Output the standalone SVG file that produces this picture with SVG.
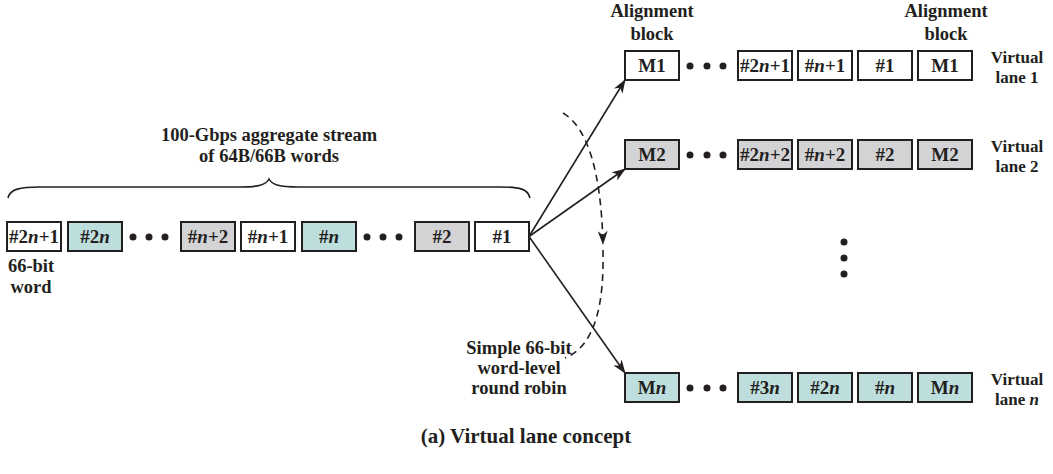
<svg xmlns="http://www.w3.org/2000/svg" width="1053" height="474" viewBox="0 0 1053 474">
<style>
text{font-family:"Liberation Serif","Times New Roman",serif;font-weight:bold;font-size:18.5px;fill:#231f20;text-anchor:middle}
.bx{font-size:19px}
.vl{font-size:17px}
.cap{font-size:21px}
.i{font-style:italic}
.b{stroke:#231f20;stroke-width:2}
.w{fill:#fff}
.t{fill:#bddedd}
.g{fill:#d3d3d5}
.ln{stroke:#231f20;stroke-width:1.6;fill:none}
.d{fill:#231f20}
</style>
<defs>
<marker id="ah" viewBox="0 0 14 10" refX="13" refY="5" markerWidth="14" markerHeight="10" markerUnits="userSpaceOnUse" orient="auto">
<path d="M0,0 L14,5 L0,10 L4,5 z" fill="#231f20"/>
</marker>
</defs>

<g id="connectors">
<line class="ln" x1="529" y1="236.5" x2="625" y2="80" marker-end="url(#ah)"/>
<line class="ln" x1="529" y1="236.5" x2="625" y2="169" marker-end="url(#ah)"/>
<line class="ln" x1="529" y1="236.5" x2="625" y2="373" marker-end="url(#ah)"/>
<path class="ln" stroke-dasharray="7,5" d="M563,113 Q600,135 603,244" marker-end="url(#ah)"/>
<path class="ln" stroke-dasharray="7,5" d="M603,250 C604,300 597,345 565,358"/>
<path class="ln" d="M8,198 C10,189 20,187 40,187 L240,187 C258,187 266,185 269,179 C272,185 280,187 298,187 L500,187 C520,187 528,189 530,198"/>
</g>

<g id="stream-label"><text x="269" y="141">100-Gbps aggregate stream</text><text x="269" y="162">of 64B/66B words</text></g>

<g id="s1"><rect class="b w" x="7" y="222" width="54" height="29"/><text class="bx" x="34" y="243">#2<tspan class="i">n</tspan>+1</text></g>
<g id="s2"><rect class="b t" x="68" y="222" width="54" height="29"/><text class="bx" x="95" y="243">#2<tspan class="i">n</tspan></text></g>
<g id="sdots1"><circle class="d" cx="133" cy="237" r="3.5"/><circle class="d" cx="149" cy="237" r="3.5"/><circle class="d" cx="165" cy="237" r="3.5"/></g>
<g id="s3"><rect class="b g" x="181" y="222" width="54" height="29"/><text class="bx" x="208" y="243">#<tspan class="i">n</tspan>+2</text></g>
<g id="s4"><rect class="b w" x="241" y="222" width="54" height="29"/><text class="bx" x="268" y="243">#<tspan class="i">n</tspan>+1</text></g>
<g id="s5"><rect class="b t" x="302" y="222" width="54" height="29"/><text class="bx" x="329" y="243">#<tspan class="i">n</tspan></text></g>
<g id="sdots2"><circle class="d" cx="367" cy="237" r="3.5"/><circle class="d" cx="383" cy="237" r="3.5"/><circle class="d" cx="399" cy="237" r="3.5"/></g>
<g id="s6"><rect class="b g" x="415" y="222" width="54" height="29"/><text class="bx" x="442" y="243">#2</text></g>
<g id="s7"><rect class="b w" x="475" y="222" width="54" height="29"/><text class="bx" x="502" y="243">#1</text></g>
<g id="word-label"><text x="31" y="272">66-bit</text><text x="31" y="293">word</text></g>

<g id="align-left"><text x="652" y="17">Alignment</text><text x="652" y="40">block</text></g>
<g id="align-right"><text x="946" y="17">Alignment</text><text x="946" y="40">block</text></g>

<g id="lane1">
<rect class="b w" x="625" y="51" width="54" height="29"/><text class="bx" x="652" y="72">M1</text>
<circle class="d" cx="690" cy="66" r="3.5"/><circle class="d" cx="707" cy="66" r="3.5"/><circle class="d" cx="723" cy="66" r="3.5"/>
<rect class="b w" x="738" y="51" width="54" height="29"/><text class="bx" x="765" y="72">#2<tspan class="i">n</tspan>+1</text>
<rect class="b w" x="798" y="51" width="54" height="29"/><text class="bx" x="825" y="72">#<tspan class="i">n</tspan>+1</text>
<rect class="b w" x="858" y="51" width="54" height="29"/><text class="bx" x="885" y="72">#1</text>
<rect class="b w" x="918" y="51" width="54" height="29"/><text class="bx" x="945" y="72">M1</text>
<text class="vl" x="1017" y="63">Virtual</text><text class="vl" x="1017" y="83">lane 1</text>
</g>

<g id="lane2">
<rect class="b g" x="625" y="140" width="54" height="29"/><text class="bx" x="652" y="161">M2</text>
<circle class="d" cx="690" cy="155" r="3.5"/><circle class="d" cx="707" cy="155" r="3.5"/><circle class="d" cx="723" cy="155" r="3.5"/>
<rect class="b g" x="738" y="140" width="54" height="29"/><text class="bx" x="765" y="161">#2<tspan class="i">n</tspan>+2</text>
<rect class="b g" x="798" y="140" width="54" height="29"/><text class="bx" x="825" y="161">#<tspan class="i">n</tspan>+2</text>
<rect class="b g" x="858" y="140" width="54" height="29"/><text class="bx" x="885" y="161">#2</text>
<rect class="b g" x="918" y="140" width="54" height="29"/><text class="bx" x="945" y="161">M2</text>
<text class="vl" x="1017" y="152">Virtual</text><text class="vl" x="1017" y="172">lane 2</text>
</g>

<g id="vdots"><circle class="d" cx="844" cy="242" r="3.5"/><circle class="d" cx="844" cy="258" r="3.5"/><circle class="d" cx="844" cy="274" r="3.5"/></g>

<g id="lanen">
<rect class="b t" x="625" y="373" width="54" height="29"/><text class="bx" x="652" y="394">M<tspan class="i">n</tspan></text>
<circle class="d" cx="690" cy="388" r="3.5"/><circle class="d" cx="707" cy="388" r="3.5"/><circle class="d" cx="723" cy="388" r="3.5"/>
<rect class="b t" x="738" y="373" width="54" height="29"/><text class="bx" x="765" y="394">#3<tspan class="i">n</tspan></text>
<rect class="b t" x="798" y="373" width="54" height="29"/><text class="bx" x="825" y="394">#2<tspan class="i">n</tspan></text>
<rect class="b t" x="858" y="373" width="54" height="29"/><text class="bx" x="885" y="394">#<tspan class="i">n</tspan></text>
<rect class="b t" x="918" y="373" width="54" height="29"/><text class="bx" x="945" y="394">M<tspan class="i">n</tspan></text>
<text class="vl" x="1017" y="385">Virtual</text><text class="vl" x="1017" y="405">lane <tspan class="i">n</tspan></text>
</g>

<g id="rr-label"><text x="519" y="354">Simple 66-bit</text><text x="519" y="374">word-level</text><text x="519" y="394">round robin</text></g>

<g id="caption"><text class="cap" x="526" y="443">(a) Virtual lane concept</text></g>
</svg>
